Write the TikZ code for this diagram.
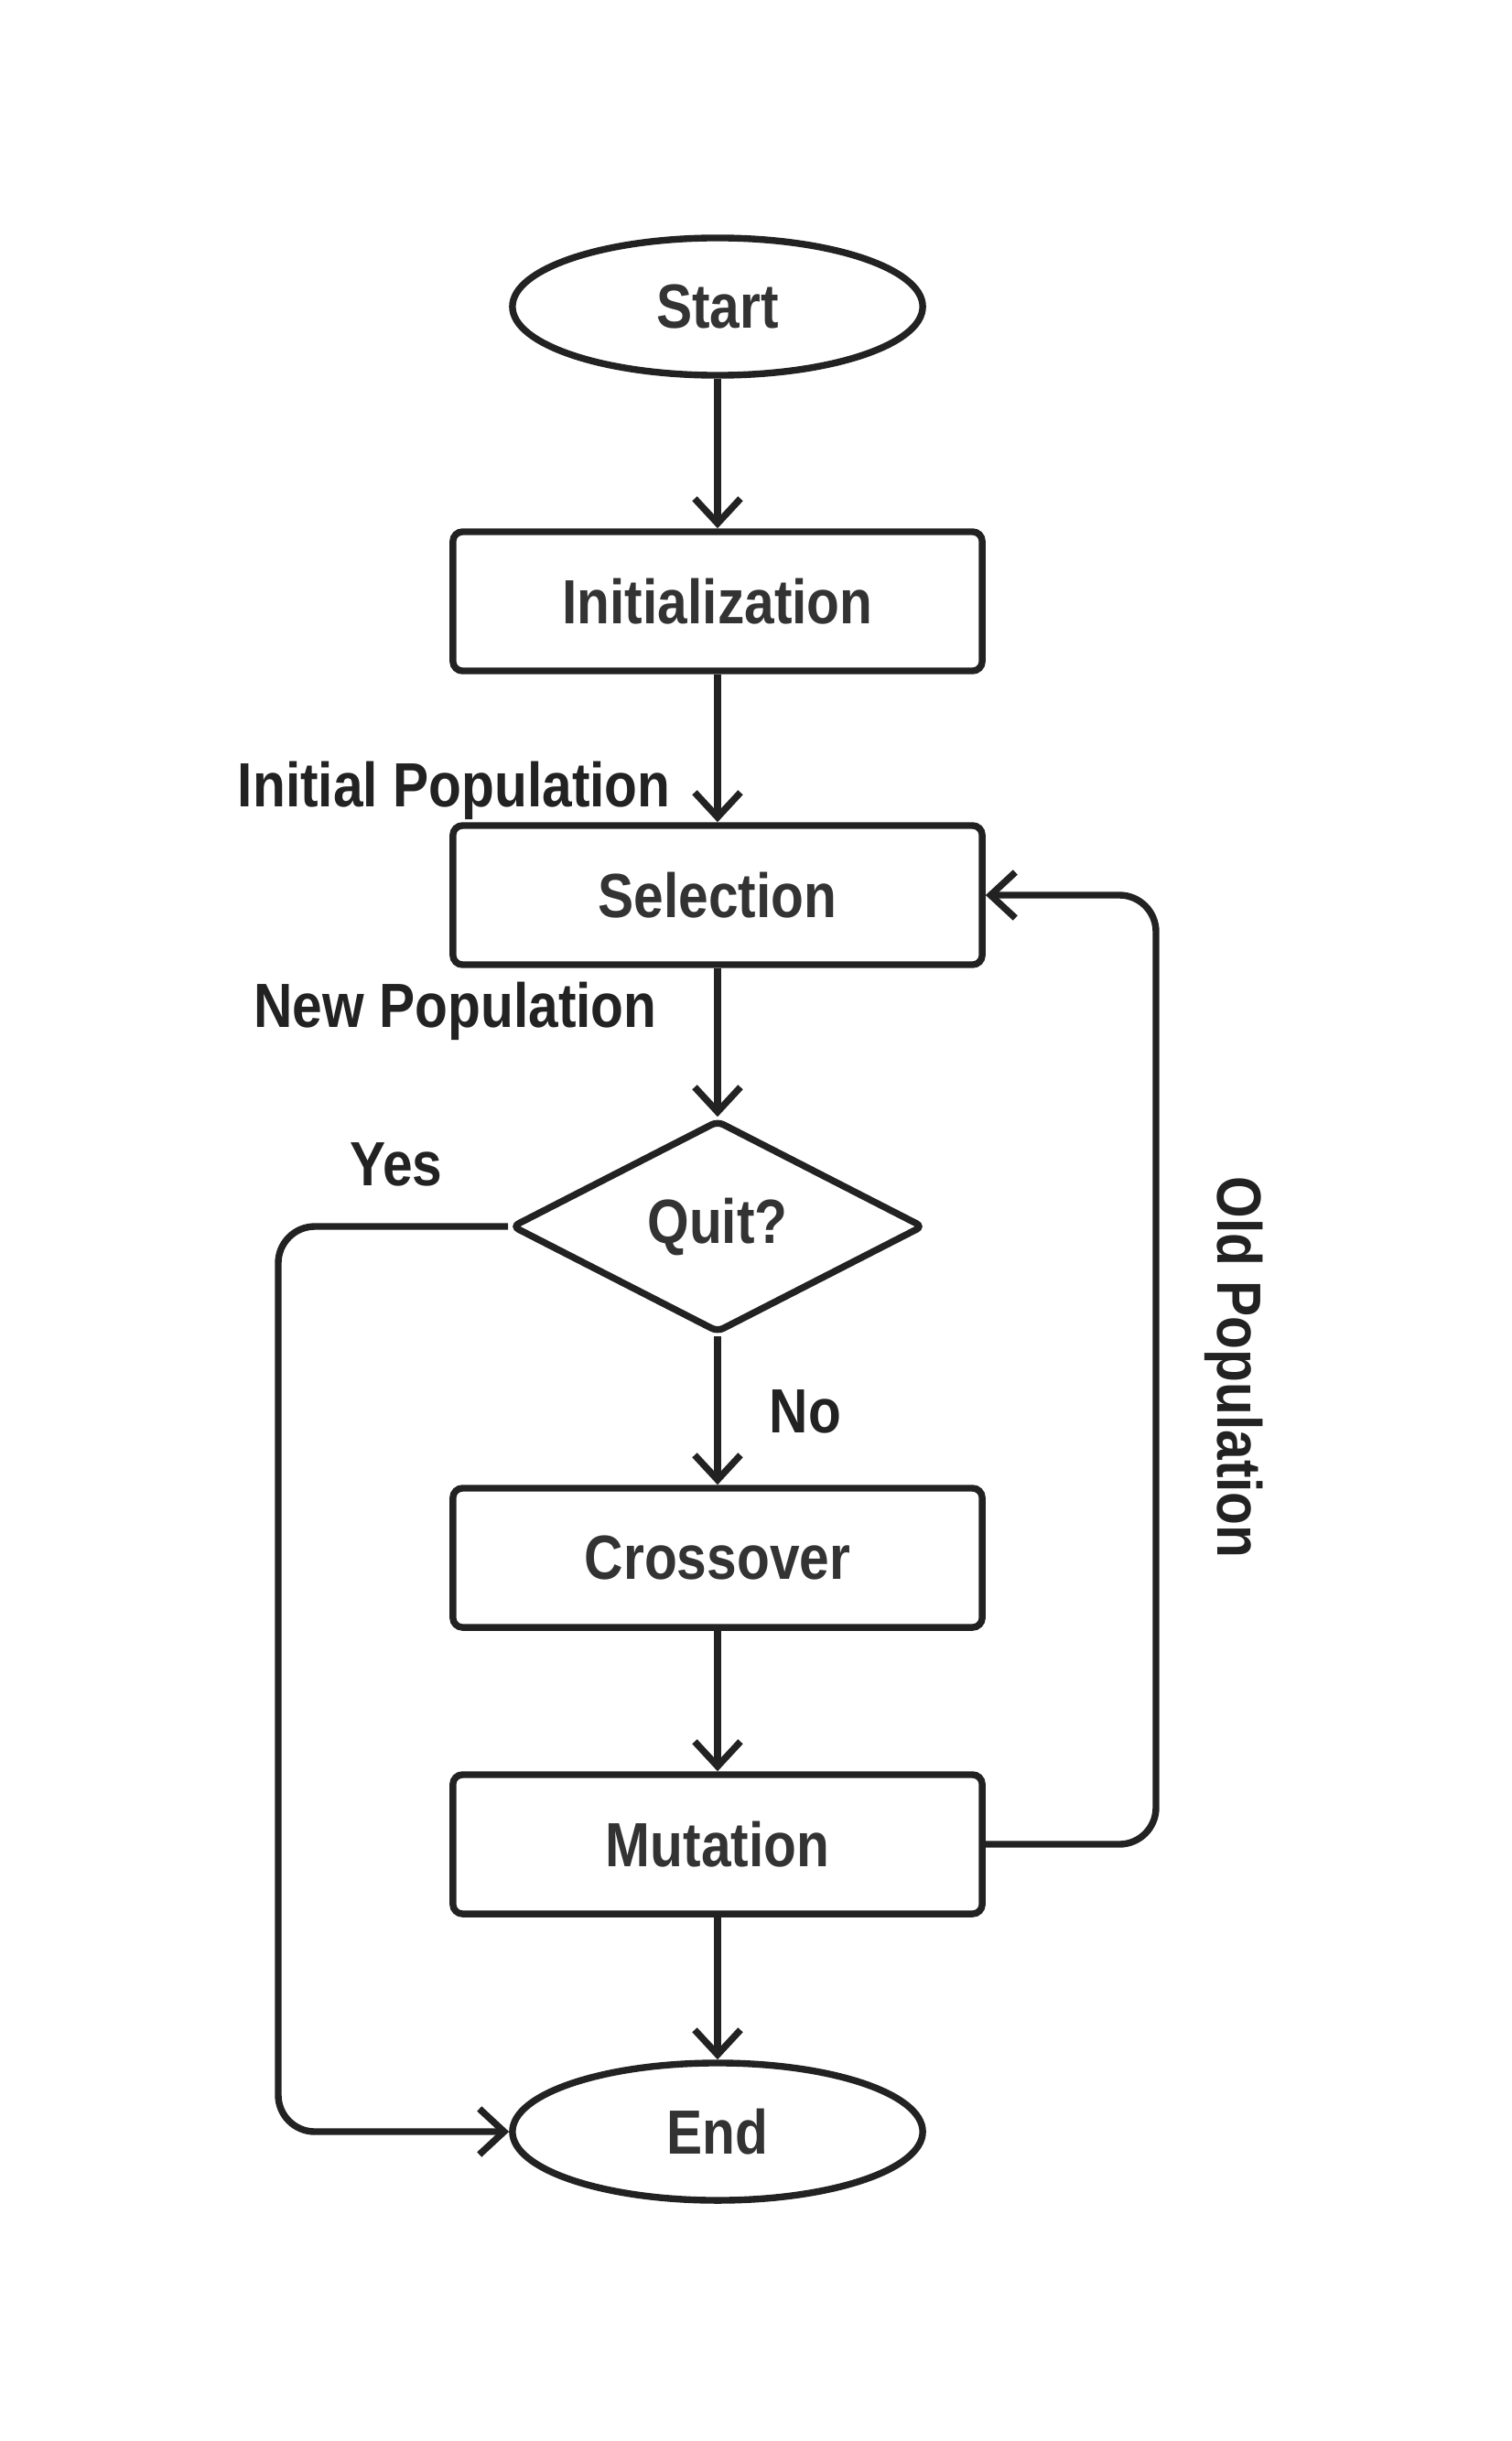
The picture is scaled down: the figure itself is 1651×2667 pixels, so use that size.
\documentclass[tikz,border=0pt]{standalone}
\usepackage{fontspec}
\setmainfont{Liberation Sans}[FakeStretch=0.86,BoldFont={Liberation Sans Bold},BoldFeatures={FakeStretch=0.86}]
\usetikzlibrary{shapes.geometric,arrows.meta}
\definecolor{ln}{HTML}{222222}
\definecolor{tx}{HTML}{333333}
\begin{document}
\begin{tikzpicture}[x=0.01cm,y=-0.01cm,
  every node/.style={font=\bfseries\fontsize{19.4}{23}\selectfont},
  base/.style={draw=ln,line width=2.1pt,text=tx,inner sep=0pt},
  procbox/.style={base,rectangle,rounded corners=3pt,minimum width=5.78cm,minimum height=1.52cm},
  term/.style={base,ellipse,minimum width=4.48cm,minimum height=1.5cm},
  decide/.style={base,diamond,minimum width=4.5cm,minimum height=2.32cm,aspect=1.94,rounded corners=2pt},
  lbl/.style={text=ln},
  arr/.style={draw=ln,line width=2.1pt,-{Straight Barb[length=0.27cm,width=0.5cm,line width=2.1pt]}}]
\useasboundingbox (0,0) rectangle (1651,2667);
\node[term] (start) at (784,335) {Start};
\node[procbox] (init) at (784,657) {Initialization};
\node[procbox] (sel) at (784,978) {Selection};
\node[decide] (quit) at (784,1340) {Quit?};
\node[procbox] (cross) at (784,1702) {Crossover};
\node[procbox] (mut) at (784,2015) {Mutation};
\node[term] (end) at (784,2329) {End};
\coordinate (yl) at (304,1340);
\coordinate (or) at (1263,2015);
\draw[arr] (start) -- (init);
\draw[arr] (init) -- (sel);
\draw[arr] (sel) -- (quit);
\draw[arr] (quit) -- (cross);
\draw[arr] (cross) -- (mut);
\draw[arr] (mut) -- (end);
\draw[arr,rounded corners=0.4cm] (quit.west) -- (yl) |- (end.west);
\draw[arr,rounded corners=0.4cm] (mut.east) -- (or) |- (sel.east);
\node[lbl,anchor=east] (lip) at (745,864) {Initial Population};
\node[lbl,anchor=east] (lnp) at (730,1105) {New Population};
\node[lbl] (lyes) at (433,1272) {Yes};
\node[lbl] (lno) at (880,1542) {No};
\node[lbl,rotate=-90] (lold) at (1348,1494) {Old Population};
\end{tikzpicture}
\end{document}
